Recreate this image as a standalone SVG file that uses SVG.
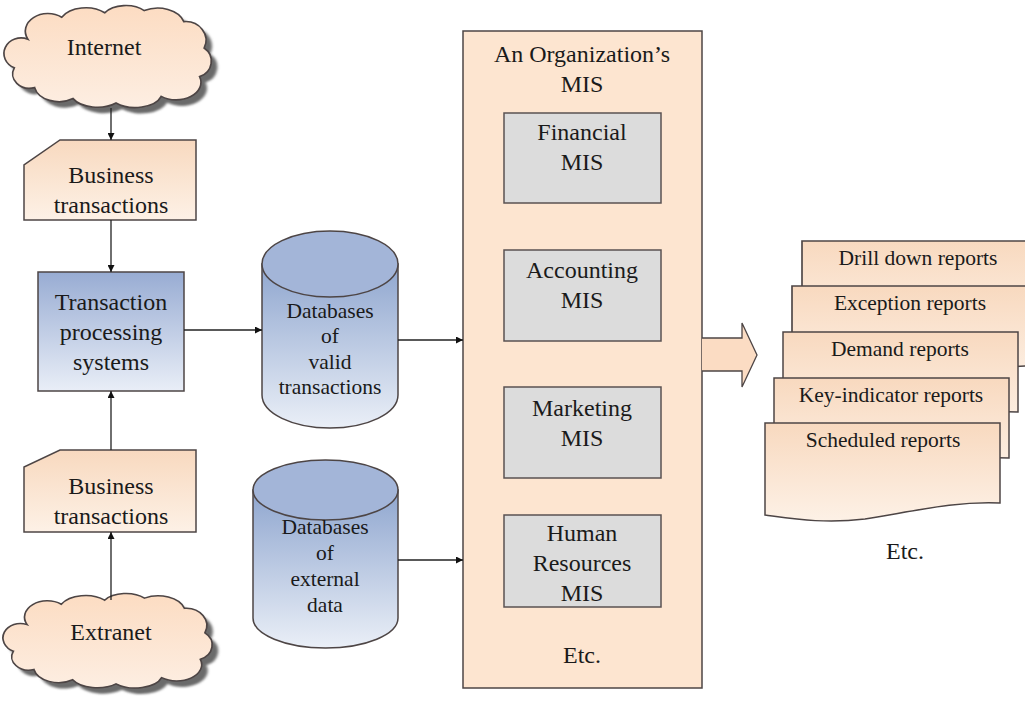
<svg xmlns="http://www.w3.org/2000/svg" width="1025" height="702" viewBox="0 0 1025 702">
<style>
text{font-family:"Liberation Serif","DejaVu Serif",serif;fill:#1a1a1a;text-anchor:middle;font-size:24px}
.sm{font-size:21.5px}
.node{stroke:#4d4545;stroke-width:1.5}
.gray{fill:#dcdcdc;stroke:#5a5252;stroke-width:1.5}
.conn{stroke:#222;stroke-width:1.3;fill:none}
</style>
<defs>
<marker id="ah" viewBox="0 0 10 10" refX="10" refY="5" markerWidth="7" markerHeight="7" markerUnits="userSpaceOnUse" orient="auto"><path d="M0,0 L10,5 L0,10 Z" fill="#111"/></marker>
<linearGradient id="peach" x1="0" y1="0" x2="0" y2="1"><stop offset="0" stop-color="#f8d9bf"/><stop offset="1" stop-color="#fdf1e6"/></linearGradient>
<linearGradient id="cloudg" x1="0" y1="0" x2="0" y2="1"><stop offset="0" stop-color="#fcdcc2"/><stop offset="1" stop-color="#fdeee2"/></linearGradient>
<linearGradient id="blue" x1="0" y1="0" x2="0" y2="1"><stop offset="0" stop-color="#98acd3"/><stop offset="1" stop-color="#e9eef7"/></linearGradient>
<linearGradient id="cyl" x1="0" y1="0" x2="0" y2="1"><stop offset="0" stop-color="#8fa6cf"/><stop offset="1" stop-color="#eaeff7"/></linearGradient>
<filter id="blur" x="-10%" y="-10%" width="130%" height="130%"><feGaussianBlur stdDeviation="1.2"/></filter>
<path id="cloud" d="M22,32 A20,16 0 0 1 52,12 A24,16 0 0 1 90,8 A22,14 0 0 1 125,6 A24,17 0 0 1 160,16 A18,17 0 0 1 178,40 A16,15 0 0 1 174,66 A22,16 0 0 1 140,84 A24,14 0 0 1 100,90 A24,14 0 0 1 62,86 A22,16 0 0 1 28,76 A15,13 0 0 1 10,58 A15,14 0 0 1 22,32 Z"/>
<path id="doc" d="M0,0 H235 V80 C190,78 150,88 100,96 C60,101 30,96 0,92 Z"/>
</defs>

<g id="internet">
<use href="#cloud" transform="translate(9,10) scale(1.13,1.1)" fill="#6a6a6a" filter="url(#blur)"/>
<use href="#cloud" transform="translate(3,4) scale(1.13,1.1)" fill="url(#cloudg)" stroke="#4d4545" stroke-width="1.5" vector-effect="non-scaling-stroke"/>
<text x="104" y="55">Internet</text>
</g>

<g id="bt1">
<path class="node" d="M60,140 H196 V220 H24 V165 Z" fill="url(#peach)"/>
<text x="111" y="183">Business</text>
<text x="111" y="213">transactions</text>
</g>

<g id="tps">
<rect class="node" x="38" y="272" width="146" height="119" fill="url(#blue)"/>
<text x="111" y="310">Transaction</text>
<text x="111" y="340">processing</text>
<text x="111" y="370">systems</text>
</g>

<g id="bt2">
<path class="node" d="M60,450 H196 V532 H24 V467 Z" fill="url(#peach)"/>
<text x="111" y="494">Business</text>
<text x="111" y="524">transactions</text>
</g>

<g id="extranet">
<use href="#cloud" transform="translate(8,598) scale(1.14,1.02)" fill="#6a6a6a" filter="url(#blur)"/>
<use href="#cloud" transform="translate(2,592) scale(1.14,1.02)" fill="url(#cloudg)" stroke="#4d4545" stroke-width="1.5" vector-effect="non-scaling-stroke"/>
<text x="111" y="640">Extranet</text>
</g>

<g id="db1">
<path class="node" d="M262,264 V395 A68,33 0 0 0 398,395 V264 Z" fill="url(#cyl)"/>
<ellipse class="node" cx="330" cy="264" rx="68" ry="33" fill="#a3b5d8"/>
<text class="sm" x="330" y="318">Databases</text>
<text class="sm" x="330" y="343">of</text>
<text class="sm" x="330" y="369">valid</text>
<text class="sm" x="330" y="394">transactions</text>
</g>

<g id="db2">
<path class="node" d="M253,490 V618 A72.5,30 0 0 0 398,618 V490 Z" fill="url(#cyl)"/>
<ellipse class="node" cx="325.5" cy="490" rx="72.5" ry="30" fill="#a3b5d8"/>
<text class="sm" x="325" y="534">Databases</text>
<text class="sm" x="325" y="560">of</text>
<text class="sm" x="325" y="586">external</text>
<text class="sm" x="325" y="612">data</text>
</g>

<g id="mis">
<rect class="node" x="463" y="31" width="239" height="657" fill="#fde5d0"/>
<text x="582" y="62">An Organization’s</text>
<text x="582" y="92">MIS</text>
<text x="582" y="663">Etc.</text>
</g>
<g id="financial">
<rect class="gray" x="504" y="113" width="157" height="90"/>
<text x="582" y="140">Financial</text>
<text x="582" y="170">MIS</text>
</g>
<g id="accounting">
<rect class="gray" x="504" y="250" width="157" height="91"/>
<text x="582" y="278">Accounting</text>
<text x="582" y="308">MIS</text>
</g>
<g id="marketing">
<rect class="gray" x="504" y="387" width="157" height="91"/>
<text x="582" y="416">Marketing</text>
<text x="582" y="446">MIS</text>
</g>
<g id="hr">
<rect class="gray" x="504" y="515" width="157" height="92"/>
<text x="582" y="541">Human</text>
<text x="582" y="571">Resources</text>
<text x="582" y="601">MIS</text>
</g>

<g id="reports">
<use href="#doc" transform="translate(802,241) scale(1.1,1)" fill="url(#peach)" stroke="#4d4545" stroke-width="1.5" vector-effect="non-scaling-stroke"/>
<text class="sm" x="918" y="265">Drill down reports</text>
<use href="#doc" transform="translate(792,286) scale(1.1,1)" fill="url(#peach)" stroke="#4d4545" stroke-width="1.5" vector-effect="non-scaling-stroke"/>
<text class="sm" x="910" y="310">Exception reports</text>
<use href="#doc" transform="translate(783,332)" fill="url(#peach)" stroke="#4d4545" stroke-width="1.5"/>
<text class="sm" x="900" y="356">Demand reports</text>
<use href="#doc" transform="translate(774,378)" fill="url(#peach)" stroke="#4d4545" stroke-width="1.5"/>
<text class="sm" x="891" y="402">Key-indicator reports</text>
<use href="#doc" transform="translate(765,423)" fill="url(#peach)" stroke="#4d4545" stroke-width="1.5"/>
<text class="sm" x="883" y="447">Scheduled reports</text>
<text x="905" y="559">Etc.</text>
</g>

<g id="connectors">
<line class="conn" x1="111" y1="108" x2="111" y2="140" marker-end="url(#ah)"/>
<line class="conn" x1="111" y1="220" x2="111" y2="272" marker-end="url(#ah)"/>
<line class="conn" x1="111" y1="450" x2="111" y2="391" marker-end="url(#ah)"/>
<line class="conn" x1="111" y1="600" x2="111" y2="532" marker-end="url(#ah)"/>
<line class="conn" x1="184" y1="330" x2="262" y2="330" marker-end="url(#ah)"/>
<line class="conn" x1="398" y1="340" x2="463" y2="340" marker-end="url(#ah)"/>
<line class="conn" x1="398" y1="560" x2="463" y2="560" marker-end="url(#ah)"/>
<path d="M702,338 H742 V323 L757,355 L742,387 V371 H702" fill="#fbdcc3" stroke="#4d4545" stroke-width="1.3"/>
</g>
</svg>
